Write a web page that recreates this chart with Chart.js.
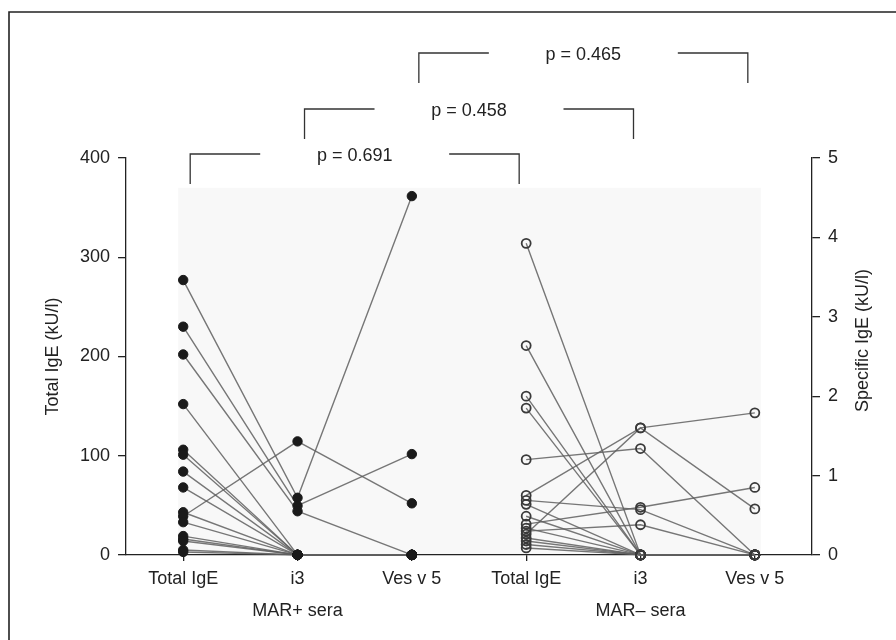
<!DOCTYPE html>
<html><head><meta charset="utf-8">
<script src="https://cdn.jsdelivr.net/npm/chart.js@4"></script>
<style>html,body{margin:0;padding:0;background:#fff;}#wrap{width:896px;height:640px;position:relative;}</style>
</head><body><div id="wrap"><canvas id="c" width="896" height="640"></canvas></div>
<script>
// ---- data ----
const categories = ['Total IgE', 'i3', 'Ves v 5', 'Total IgE', 'i3', 'Ves v 5'];
const groupLabels = ['MAR+ sera', 'MAR\u2013 sera'];
const leftTicks = [0, 100, 200, 300, 400];
const rightTicks = [0, 1, 2, 3, 4, 5];
const axisTitles = ['Total IgE (kU/l)', 'Specific IgE (kU/l)'];

// MAR+ sera: one entry per patient (Total IgE on left axis, i3 / Ves v 5 on right axis)
const marPosTotal = [277, 230, 202, 152, 106, 101, 84, 68, 43, 39, 33, 19, 16, 14, 5, 3];
const marPosI3    = [0.72, 0.62, 0.55, 0, 0, 0, 0, 0, 0, 1.43, 0, 0, 0, 0, 0, 0];
const marPosVes   = [4.52, 1.27, 0, 0, 0, 0, 0, 0, 0, 0.65, 0, 0, 0, 0, 0, 0];

// MAR- sera
const marNegTotal = [314, 211, 160, 148, 96, 60, 55, 51, 39, 31, 27, 24, 21, 17, 14, 10.5, 7];
const marNegI3    = [0, 0, 0, 0, 1.34, 1.60, 0.57, 0, 0, 0.60, 0, 0.38, 1.60, 0, 0, 0, 0];
const marNegVes   = [0, 0, 0, 0, 0, 1.79, 0, 0, 0, 0.85, 0, 0, 0.58, 0, 0, 0, 0];

const pLabels = ['p = 0.691', 'p = 0.458', 'p = 0.465'];
const pPairs = [[0, 3], [1, 4], [2, 5]];

// ---- build ----
const FONT = "'Liberation Sans', Arial, sans-serif";
const INK = '#222';
const xLabels = categories.map((c, i) => i === 1 ? [c, groupLabels[0]] : i === 4 ? [c, groupLabels[1]] : c);

function pts(arr, xi) { return arr.map(v => ({ x: xi, y: v })); }
const filled = { showLine: false, pointRadius: 4.7, pointBackgroundColor: '#1a1a1a', pointBorderColor: '#1a1a1a', pointBorderWidth: 1, clip: false };
const hollow = { showLine: false, pointRadius: 4.5, pointBackgroundColor: 'rgba(255,255,255,0)', pointBorderColor: '#3a3a3a', pointBorderWidth: 1.8, clip: false };

const groups = [
  { base: 0, total: marPosTotal, i3: marPosI3, ves: marPosVes },
  { base: 3, total: marNegTotal, i3: marNegI3, ves: marNegVes }
];

const datasets = [
  Object.assign({ label: 'MAR+ Total', data: pts(marPosTotal, 0), yAxisID: 'y' }, filled),
  Object.assign({ label: 'MAR+ i3', data: pts(marPosI3, 1), yAxisID: 'y2' }, filled),
  Object.assign({ label: 'MAR+ Ves', data: pts(marPosVes, 2), yAxisID: 'y2' }, filled),
  Object.assign({ label: 'MAR- Total', data: pts(marNegTotal, 3), yAxisID: 'y' }, hollow),
  Object.assign({ label: 'MAR- i3', data: pts(marNegI3, 4), yAxisID: 'y2' }, hollow),
  Object.assign({ label: 'MAR- Ves', data: pts(marNegVes, 5), yAxisID: 'y2' }, hollow)
];

const framePlugin = {
  id: 'frame',
  beforeDraw(chart) {
    const { ctx, chartArea, scales } = chart;
    ctx.save();
    ctx.fillStyle = '#fff';
    ctx.fillRect(0, 0, chart.width, chart.height);
    // faint background panel behind the data
    ctx.fillStyle = '#f8f8f8';
    const xl = scales.x.getPixelForValue(0) - 5, xr = scales.x.getPixelForValue(5) + 6;
    const yt = scales.y.getPixelForValue(370);
    ctx.fillRect(xl, yt, xr - xl, chartArea.bottom - yt);
    // outer frame (top and left edges)
    ctx.strokeStyle = '#222';
    ctx.lineWidth = 1.6;
    ctx.beginPath();
    ctx.moveTo(9, chart.height);
    ctx.lineTo(9, 12);
    ctx.lineTo(chart.width, 12);
    ctx.stroke();
    ctx.restore();
  }
};

const connectorPlugin = {
  id: 'connectors',
  beforeDatasetsDraw(chart) {
    const { ctx, scales } = chart;
    const x = scales.x, y = scales.y, y2 = scales.y2;
    ctx.save();
    ctx.strokeStyle = 'rgba(95,95,95,0.85)';
    ctx.lineWidth = 1.4;
    groups.forEach(g => {
      g.total.forEach((t, i) => {
        ctx.beginPath();
        ctx.moveTo(x.getPixelForValue(g.base), y.getPixelForValue(t));
        ctx.lineTo(x.getPixelForValue(g.base + 1), y2.getPixelForValue(g.i3[i]));
        ctx.lineTo(x.getPixelForValue(g.base + 2), y2.getPixelForValue(g.ves[i]));
        ctx.stroke();
      });
    });
    ctx.restore();
  }
};

const annotPlugin = {
  id: 'annot',
  afterDraw(chart) {
    const { ctx, chartArea, scales } = chart;
    const x = scales.x;
    const levels = [-4, -49, -105];
    ctx.save();
    ctx.strokeStyle = '#333';
    ctx.lineWidth = 1.3;
    ctx.fillStyle = INK;
    ctx.font = '18px ' + FONT;
    ctx.textAlign = 'center';
    ctx.textBaseline = 'middle';
    pPairs.forEach((pair, k) => {
      const xa = x.getPixelForValue(pair[0]) + 7;
      const xb = x.getPixelForValue(pair[1]) - 7;
      const yt = chartArea.top + levels[k];
      const drop = 30, arm = 70;
      ctx.beginPath();
      ctx.moveTo(xa, yt + drop); ctx.lineTo(xa, yt); ctx.lineTo(xa + arm, yt);
      ctx.moveTo(xb - arm, yt); ctx.lineTo(xb, yt); ctx.lineTo(xb, yt + drop);
      ctx.stroke();
      ctx.fillText(pLabels[k], (xa + xb) / 2, yt + 2);
    });
    // axis titles (both read bottom-to-top)
    const cy = (chartArea.top + chartArea.bottom) / 2;
    ctx.save();
    ctx.translate(chartArea.left - 73, cy);
    ctx.rotate(-Math.PI / 2);
    ctx.fillText(axisTitles[0], 0, 0);
    ctx.restore();
    ctx.save();
    ctx.translate(chartArea.right + 51, cy - 16);
    ctx.rotate(-Math.PI / 2);
    ctx.fillText(axisTitles[1], 0, 0);
    ctx.restore();
    ctx.restore();
  }
};

const axisCommon = {
  border: { color: INK, width: 1.3 },
  ticks: { color: INK, font: { family: FONT, size: 18 }, padding: 8 }
};

new Chart(document.getElementById('c'), {
  type: 'line',
  data: { datasets },
  options: {
    responsive: false,
    animation: false,
    devicePixelRatio: 1,
    layout: { padding: { left: 72, right: 50, top: 158, bottom: 11 } },
    plugins: { legend: { display: false }, tooltip: { enabled: false } },
    scales: {
      x: {
        type: 'linear',
        min: -0.5, max: 5.5,
        afterBuildTicks: s => { s.ticks = categories.map((c, i) => ({ value: i })); },
        grid: { drawOnChartArea: false, tickLength: 6, color: INK, lineWidth: 1.3 },
        border: { color: INK, width: 1.3 },
        ticks: {
          color: INK, font: { family: FONT, size: 18, lineHeight: 1.78 }, padding: 2,
          maxRotation: 0, autoSkip: false,
          callback: (v, i) => xLabels[i]
        }
      },
      y: Object.assign({}, axisCommon, {
        position: 'left', min: 0, max: 400,
        afterBuildTicks: s => { s.ticks = leftTicks.map(v => ({ value: v })); },
        grid: { drawOnChartArea: false, tickLength: 8, color: INK, lineWidth: 1.3 }
      }),
      y2: Object.assign({}, axisCommon, {
        position: 'right', min: 0, max: 5,
        afterBuildTicks: s => { s.ticks = rightTicks.map(v => ({ value: v })); },
        grid: { drawOnChartArea: false, tickLength: 8, color: INK, lineWidth: 1.3 }
      })
    }
  },
  plugins: [framePlugin, connectorPlugin, annotPlugin]
});
</script>
</body></html>
